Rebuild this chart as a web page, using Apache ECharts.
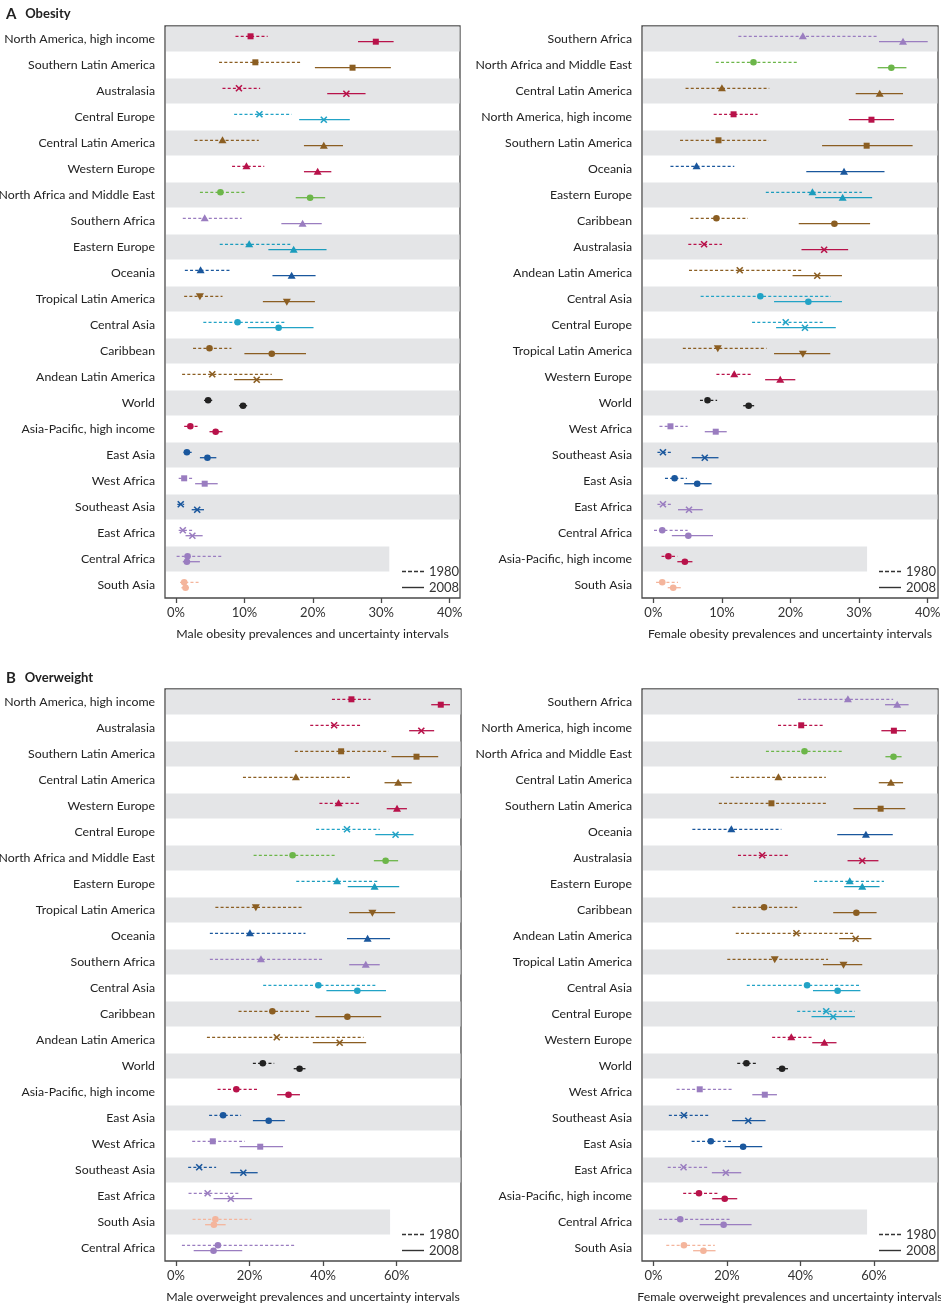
<!DOCTYPE html>
<html>
<head>
<meta charset="utf-8">
<script src="https://cdn.jsdelivr.net/npm/echarts@6/dist/echarts.min.js"></script>
<style>
html,body{margin:0;padding:0;background:#fff;}
#chart{width:941px;height:1305px;}
</style>
</head>
<body>
<div id="chart"></div>
<script>
// ---------- DATA ----------
const obesityTicks = [0, 10, 20, 30, 40];
const overweightTicks = [0, 20, 40, 60];

const maleObesityRegions = ['North America, high income','Southern Latin America','Australasia','Central Europe','Central Latin America','Western Europe','North Africa and Middle East','Southern Africa','Eastern Europe','Oceania','Tropical Latin America','Central Asia','Caribbean','Andean Latin America','World','Asia-Pacific, high income','East Asia','West Africa','Southeast Asia','East Africa','Central Africa','South Asia'];
// [low, estimate, high]
const maleObesity1980 = [[8.7,10.9,13.4],[6.3,11.6,18.4],[6.8,9.2,12.3],[8.5,12.2,16.9],[2.7,6.8,12.1],[8.2,10.3,12.9],[3.5,6.5,10.3],[1.0,4.2,9.6],[6.4,10.7,16.7],[1.3,3.6,7.9],[1.2,3.5,6.8],[4.0,9.0,16.1],[2.5,4.9,8.1],[0.9,5.3,14.0],[4.1,4.7,5.6],[1.2,2.1,3.3],[1.1,1.6,2.3],[0.4,1.2,2.6],[0.2,0.7,1.2],[0.4,1.0,2.5],[0.1,1.7,6.8],[0.6,1.2,3.3]];
const maleObesity2008 = [[26.6,29.2,31.8],[20.3,25.8,31.4],[22.1,24.9,27.7],[18.0,21.6,25.4],[18.7,21.6,24.4],[18.7,20.7,22.7],[17.5,19.6,21.8],[15.4,18.5,21.3],[13.5,17.2,22.0],[14.1,16.9,20.4],[12.7,16.2,20.3],[10.5,15.0,20.1],[10.0,14.0,19.0],[8.5,11.8,15.6],[9.2,9.8,10.4],[4.9,5.8,6.8],[3.5,4.6,5.9],[2.8,4.2,6.1],[2.3,3.1,4.1],[1.4,2.4,3.9],[1.0,1.6,3.5],[0.8,1.4,1.9]];

const femaleObesityRegions = ['Southern Africa','North Africa and Middle East','Central Latin America','North America, high income','Southern Latin America','Oceania','Eastern Europe','Caribbean','Australasia','Andean Latin America','Central Asia','Central Europe','Tropical Latin America','Western Europe','World','West Africa','Southeast Asia','East Asia','East Africa','Central Africa','Asia-Pacific, high income','South Asia'];
const femaleObesity1980 = [[12.4,21.8,32.7],[9.1,14.6,21.2],[4.7,10.0,16.9],[8.8,11.7,15.2],[3.9,9.5,16.8],[2.5,6.3,11.8],[16.4,23.2,30.4],[5.4,9.2,13.8],[5.1,7.4,10.0],[5.2,12.6,21.8],[6.9,15.6,25.9],[14.4,19.3,24.7],[4.3,9.4,16.5],[9.2,11.8,14.3],[6.8,7.9,9.3],[0.9,2.5,5.0],[0.6,1.4,2.8],[1.7,3.1,4.9],[0.6,1.4,2.7],[0.1,1.3,5.0],[1.2,2.2,3.5],[0.4,1.3,3.6]];
const femaleObesity2008 = [[32.9,36.4,40.0],[32.7,34.7,36.9],[29.5,33.0,36.4],[28.5,31.8,35.1],[24.6,31.1,37.8],[22.3,27.8,33.7],[23.6,27.6,31.9],[21.2,26.4,31.6],[21.6,24.9,28.4],[20.3,23.9,27.5],[17.6,22.6,27.5],[17.9,22.1,26.6],[17.6,21.8,25.8],[16.3,18.5,20.7],[13.1,13.9,14.7],[7.5,9.1,10.7],[5.6,7.5,9.5],[4.5,6.4,8.5],[3.6,5.2,7.2],[2.7,5.1,8.7],[3.5,4.6,5.7],[2.1,2.9,4.0]];

const maleOverweightRegions = ['North America, high income','Australasia','Southern Latin America','Central Latin America','Western Europe','Central Europe','North Africa and Middle East','Eastern Europe','Tropical Latin America','Oceania','Southern Africa','Central Asia','Caribbean','Andean Latin America','World','Asia-Pacific, high income','East Asia','West Africa','Southeast Asia','East Africa','South Asia','Central Africa'];
const maleOverweight1980 = [[42.4,47.7,52.9],[36.5,43.0,50.1],[32.3,44.9,57.8],[18.2,32.6,47.6],[39.0,44.2,49.9],[38.1,46.5,55.4],[21.1,31.7,43.6],[32.7,43.8,55.1],[10.7,21.7,34.3],[9.2,20.1,35.2],[9.2,23.1,40.2],[23.7,38.7,54.2],[17.0,26.2,36.5],[8.4,27.4,51.0],[20.9,23.6,26.7],[11.3,16.4,22.4],[9.0,12.8,17.7],[4.4,10.0,18.7],[3.3,6.3,10.9],[3.4,8.6,17.0],[4.5,10.7,20.5],[1.6,11.4,32.6]];
const maleOverweight2008 = [[69.4,72.0,74.5],[63.4,66.7,70.2],[58.6,65.4,71.3],[56.7,60.4,64.1],[57.3,60.1,62.8],[54.2,59.7,64.6],[53.8,57.0,60.4],[46.7,54.0,60.7],[47.1,53.4,59.6],[46.5,52.1,58.2],[47.1,51.6,55.4],[40.9,49.3,57.1],[37.9,46.6,55.8],[37.2,44.5,51.7],[32.0,33.6,35.2],[27.5,30.6,33.7],[20.9,25.2,29.6],[17.3,22.9,29.1],[14.8,18.3,22.2],[10.2,14.9,20.7],[7.9,10.3,13.5],[4.8,10.2,18.0]];

const femaleOverweightRegions = ['Southern Africa','North America, high income','North Africa and Middle East','Central Latin America','Southern Latin America','Oceania','Australasia','Eastern Europe','Caribbean','Andean Latin America','Tropical Latin America','Central Asia','Central Europe','Western Europe','World','West Africa','Southeast Asia','East Asia','East Africa','Asia-Pacific, high income','Central Africa','South Asia'];
const femaleOverweight1980 = [[39.3,52.9,65.2],[33.9,40.2,46.6],[30.6,41.1,51.4],[21.0,34.0,46.9],[17.8,32.1,46.9],[10.6,21.2,34.8],[23.0,29.6,36.6],[43.7,53.4,62.7],[21.5,30.1,39.1],[22.4,38.9,54.3],[20.1,33.0,47.5],[25.4,41.8,56.3],[39.1,47.0,54.8],[32.3,37.5,43.0],[22.8,25.3,28.2],[6.3,12.6,21.7],[4.2,8.3,14.9],[10.4,15.6,21.4],[3.9,8.2,14.8],[8.1,12.4,17.9],[1.5,7.3,20.8],[3.5,8.3,16.7]];
const femaleOverweight2008 = [[63.0,66.3,69.4],[62.0,65.4,68.7],[63.1,65.3,67.5],[61.3,64.6,67.9],[54.4,61.8,68.5],[50.0,57.8,65.1],[52.8,56.8,61.2],[51.9,56.8,61.5],[48.9,55.2,60.7],[50.5,55.0,59.3],[46.1,51.7,56.8],[43.4,50.1,56.3],[43.0,48.9,54.8],[43.2,46.5,49.8],[33.5,35.0,36.6],[26.9,30.3,33.6],[21.4,25.8,30.5],[19.4,24.4,29.6],[15.9,19.7,23.9],[16.0,19.4,22.8],[12.6,19.1,26.7],[10.8,13.6,16.9]];

// ---------- STYLES ----------
const C = {
  crimson: '#b8124a', brown: '#8b5e22', cyan: '#22a3c6', teal: '#1b9cbd',
  green: '#6cb649', purple: '#9a7dc0', blue: '#1a579d', peach: '#f4b59c', black: '#222222'
};
const regionStyle = {
  'North America, high income': {color: C.crimson, shape: 'square'},
  'Southern Latin America': {color: C.brown, shape: 'square'},
  'Australasia': {color: C.crimson, shape: 'cross'},
  'Central Europe': {color: C.cyan, shape: 'cross'},
  'Central Latin America': {color: C.brown, shape: 'triangle'},
  'Western Europe': {color: C.crimson, shape: 'triangle'},
  'North Africa and Middle East': {color: C.green, shape: 'circle'},
  'Southern Africa': {color: C.purple, shape: 'triangle'},
  'Eastern Europe': {color: C.teal, shape: 'triangle'},
  'Oceania': {color: C.blue, shape: 'triangle'},
  'Tropical Latin America': {color: C.brown, shape: 'down'},
  'Central Asia': {color: C.cyan, shape: 'circle'},
  'Caribbean': {color: C.brown, shape: 'circle'},
  'Andean Latin America': {color: C.brown, shape: 'cross'},
  'World': {color: C.black, shape: 'circle'},
  'Asia-Pacific, high income': {color: C.crimson, shape: 'circle'},
  'East Asia': {color: C.blue, shape: 'circle'},
  'West Africa': {color: C.purple, shape: 'square'},
  'Southeast Asia': {color: C.blue, shape: 'cross'},
  'East Africa': {color: C.purple, shape: 'cross'},
  'Central Africa': {color: C.purple, shape: 'circle'},
  'South Asia': {color: C.peach, shape: 'circle'}
};

const FONT = 'Lato';
const FS = 12.3;
const panels = [
  {regions: maleObesityRegions, a: maleObesity1980, b: maleObesity2008, ticks: obesityTicks, min: -1.6, max: 41.5,
   name: 'Male obesity prevalences and uncertainty intervals', grid: {left: 165, top: 26, width: 295, height: 572}},
  {regions: femaleObesityRegions, a: femaleObesity1980, b: femaleObesity2008, ticks: obesityTicks, min: -1.65, max: 41.5,
   name: 'Female obesity prevalences and uncertainty intervals', grid: {left: 642, top: 26, width: 296, height: 572}},
  {regions: maleOverweightRegions, a: maleOverweight1980, b: maleOverweight2008, ticks: overweightTicks, min: -3.0, max: 77.5,
   name: 'Male overweight prevalences and uncertainty intervals', grid: {left: 165, top: 689, width: 296, height: 572}},
  {regions: femaleOverweightRegions, a: femaleOverweight1980, b: femaleOverweight2008, ticks: overweightTicks, min: -3.1, max: 77.4,
   name: 'Female overweight prevalences and uncertainty intervals', grid: {left: 642, top: 689, width: 296, height: 572}}
];

function markerShape(shape, cx, cy, color) {
  const s = 3;
  switch (shape) {
    case 'square':
      return {type: 'rect', shape: {x: cx - s, y: cy - s, width: 2 * s, height: 2 * s}, style: {fill: color}};
    case 'triangle':
      return {type: 'polygon', shape: {points: [[cx, cy - 4], [cx + 4, cy + 3], [cx - 4, cy + 3]]}, style: {fill: color}};
    case 'down':
      return {type: 'polygon', shape: {points: [[cx - 4, cy - 3], [cx + 4, cy - 3], [cx, cy + 4]]}, style: {fill: color}};
    case 'cross':
      return {type: 'group', children: [
        {type: 'line', shape: {x1: cx - s, y1: cy - s, x2: cx + s, y2: cy + s}, style: {stroke: color, lineWidth: 1.6}},
        {type: 'line', shape: {x1: cx - s, y1: cy + s, x2: cx + s, y2: cy - s}, style: {stroke: color, lineWidth: 1.6}}
      ]};
    default:
      return {type: 'circle', shape: {cx: cx, cy: cy, r: 3.3}, style: {fill: color}};
  }
}

function intervalSeries(p, i, yearName, values, offset, dashed) {
  return {
    type: 'custom', name: yearName, xAxisIndex: i, yAxisIndex: i, z: 3,
    itemStyle: {color: '#333'},
    encode: {x: [0, 1, 2], y: 3},
    data: values.map((v, k) => [v[0], v[1], v[2], k]),
    renderItem: function (params, api) {
      const k = api.value(3);
      const st = regionStyle[p.regions[k]];
      const lo = api.coord([api.value(0), k]);
      const pt = api.coord([api.value(1), k]);
      const hi = api.coord([api.value(2), k]);
      const y = lo[1] + offset;
      return {type: 'group', children: [
        {type: 'line', shape: {x1: lo[0], y1: y, x2: hi[0], y2: y},
         style: {stroke: st.color, lineWidth: 1.3, lineDash: dashed ? [3, 2.2] : null}},
        markerShape(st.shape, pt[0], y, st.color)
      ]};
    }
  };
}

const option = {
  animation: false,
  backgroundColor: '#fff',
  textStyle: {fontFamily: FONT},
  title: [
    {text: '{a|A}  {b|Obesity}', left: 1, top: 0,
     textStyle: {rich: {a: {fontSize: 15, color: '#222', fontFamily: FONT}, b: {fontSize: 13, fontWeight: 'bold', color: '#222', fontFamily: FONT}}}},
    {text: '{a|B}  {b|Overweight}', left: 1, top: 664,
     textStyle: {rich: {a: {fontSize: 15, color: '#222', fontFamily: FONT}, b: {fontSize: 13, fontWeight: 'bold', color: '#222', fontFamily: FONT}}}}
  ],
  grid: [], xAxis: [], yAxis: [], series: [], legend: []
};

panels.forEach((p, i) => {
  option.grid.push(Object.assign({show: true, borderColor: '#4a4a4a', borderWidth: 1.3, backgroundColor: 'transparent',
    containLabel: false, outerBoundsMode: 'none'}, p.grid));
  option.xAxis.push({
    type: 'value', gridIndex: i, min: p.min, max: p.max,
    axisLine: {show: false},
    splitLine: {show: false},
    axisTick: {show: true, customValues: p.ticks, length: 5, lineStyle: {color: '#4a4a4a', width: 1.3}},
    axisLabel: {customValues: p.ticks, formatter: v => v + '%', margin: 8, fontSize: 13, color: '#333', fontFamily: FONT},
    name: p.name, nameLocation: 'middle', nameGap: 30,
    nameTextStyle: {fontSize: FS, color: '#222', fontFamily: FONT}
  });
  option.yAxis.push({
    type: 'category', gridIndex: i, data: p.regions, inverse: true,
    axisLine: {show: false}, axisTick: {show: false}, splitLine: {show: false},
    axisLabel: {fontSize: FS, color: '#222', margin: 10, fontFamily: FONT}
  });
  const n = p.regions.length;
  const bandRows = [];
  for (let k = 0; k < n; k += 2) bandRows.push([0, k]);
  option.series.push({
    type: 'custom', xAxisIndex: i, yAxisIndex: i, silent: true, z: 1,
    encode: {x: 0, y: 1}, data: bandRows,
    renderItem: function (params, api) {
      const k = api.value(1);
      const c = api.coord([0, k]);
      const h = api.size([0, 1])[1];
      const cs = params.coordSys;
      let w = cs.width - 1.5;
      if (k === n - 2) w = cs.width * 0.757;
      return {type: 'rect', shape: {x: cs.x + 1, y: c[1] - h / 2 + 0.5, width: w, height: h - 1}, style: {fill: '#e4e5e7'}};
    }
  });
  option.series.push(intervalSeries(p, i, '1980', p.a, -2.7, true));
  option.series.push(intervalSeries(p, i, '2008', p.b, 2.7, false));
  option.legend.push({
    orient: 'vertical', left: p.grid.left + 232, top: p.grid.top + p.grid.height - 39,
    itemWidth: 22, itemHeight: 1.4, itemGap: 1, symbolKeepAspect: false, selectedMode: false,
    textStyle: {fontSize: 13, color: '#333', fontFamily: FONT, lineHeight: 15},
    data: [
      {name: '1980', icon: 'path://M0,0h4v1h-4z M6,0h4v1h-4z M12,0h4v1h-4z M18,0h4v1h-4z'},
      {name: '2008', icon: 'rect'}
    ]
  });
});

const chart = echarts.init(document.getElementById('chart'), null, {renderer: 'canvas'});
chart.setOption(option);
</script>
</body>
</html>
